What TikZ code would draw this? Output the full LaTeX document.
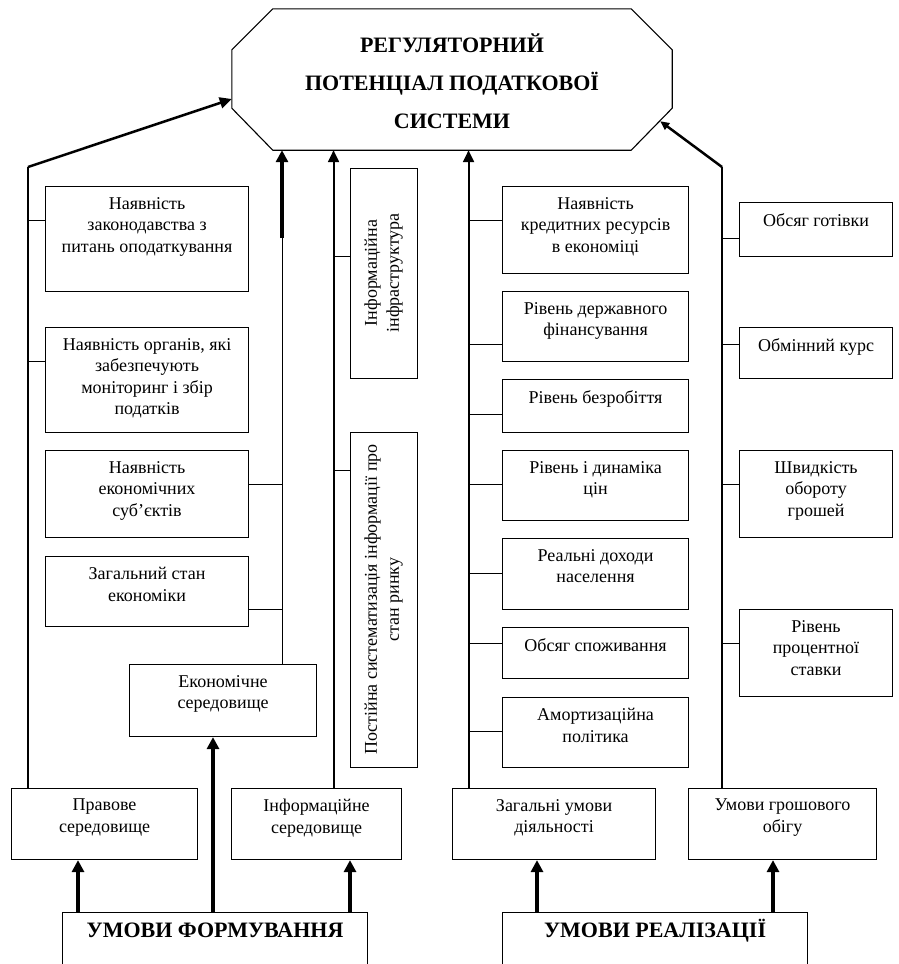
\documentclass[tikz,border=0pt]{standalone}
\usepackage{fontspec}
\setmainfont{Liberation Serif}
\usetikzlibrary{arrows.meta}

\tikzset{
  box/.style={draw, line width=1.1pt, anchor=north west, inner sep=0pt},
  txt/.style={anchor=north, align=center, inner ysep=11pt, font=\fontsize{18}{21.5}\selectfont},
  head/.style={anchor=north, align=center, inner ysep=9pt, text height=16pt, font=\fontsize{22}{26}\selectfont\bfseries},
  side/.style={draw, line width=1pt, rotate=90, align=center, inner sep=0pt, minimum height=67, font=\fontsize{18}{22}\selectfont},
  link/.style={line width=1pt},
  trunk/.style={line width=1.5pt},
  bigarrow/.style={line width=3.5pt, -{Triangle[length=12pt,width=12pt]}},
  midarrow/.style={line width=2pt, -{Triangle[length=12pt,width=11pt]}},
  smallarrow/.style={line width=2.5pt, -{Triangle[length=9pt,width=8pt]}},
}

\begin{document}
\begin{tikzpicture}[x=1pt,y=-1pt]
\useasboundingbox (0,0) rectangle (898,964);

% top block
\node[minimum width=440, minimum height=141, inner sep=0pt, align=center, font=\fontsize{22}{38}\selectfont\bfseries] (reg) at (452,81.5) {РЕГУЛЯТОРНИЙ\\ПОТЕНЦІАЛ ПОДАТКОВОЇ\\СИСТЕМИ};
\draw[line width=1.1pt] ([xshift=41pt,yshift=2pt]reg.north west) -- ([xshift=-41pt,yshift=2pt]reg.north east) -- ([yshift=-39pt]reg.north east) -- ([yshift=44pt]reg.south east) -- ([xshift=-41pt,yshift=2pt]reg.south east) -- ([xshift=41pt,yshift=2pt]reg.south west) -- ([yshift=44pt]reg.south west) -- ([yshift=-39pt]reg.north west) -- cycle;
\coordinate (regb) at ([yshift=2pt]reg.south);

% left column
\node[box, minimum width=203, minimum height=105, label={[txt]north:{Наявність\\законодавства з\\питань оподаткування}}] (l1) at (45,186) {};
\node[box, minimum width=203, minimum height=105, label={[txt]north:{Наявність органів, які\\забезпечують\\моніторинг і збір\\податків}}] (l2) at (45,327) {};
\node[box, minimum width=203, minimum height=87, label={[txt]north:{Наявність\\економічних\\суб’єктів}}] (l3) at (45,450) {};
\node[box, minimum width=203, minimum height=70, label={[txt]north:{Загальний стан\\економіки}}] (l4) at (45,556) {};
\node[box, minimum width=187, minimum height=72, label={[txt]north:{Економічне\\середовище}}] (econ) at (129,664) {};
\node[box, minimum width=186, minimum height=71, label={[txt]north:{Правове\\середовище}}] (prav) at (11,788) {};
\node[box, minimum width=170, minimum height=71, label={[txt]north:{Інформаційне\\середовище}}] (info) at (231,788) {};

% information boxes
\node[side, minimum width=210] (infr) at (383.5,273) {Інформаційна\\інфраструктура};
\node[side, minimum width=335] (post) at (383.5,599.5) {Постійна систематизація інформації про\\стан ринку};

% middle right column
\node[box, minimum width=186, minimum height=87, label={[txt]north:{Наявність\\кредитних ресурсів\\в економіці}}] (r1) at (502,186) {};
\node[box, minimum width=186, minimum height=70, label={[txt]north:{Рівень державного\\фінансування}}] (r2) at (502,291) {};
\node[box, minimum width=186, minimum height=53, label={[txt]north:{Рівень безробіття}}] (r3) at (502,379) {};
\node[box, minimum width=186, minimum height=70, label={[txt]north:{Рівень і динаміка\\цін}}] (r4) at (502,450) {};
\node[box, minimum width=186, minimum height=71, label={[txt]north:{Реальні доходи\\населення}}] (r5) at (502,538) {};
\node[box, minimum width=186, minimum height=51, label={[txt]north:{Обсяг споживання}}] (r6) at (502,627) {};
\node[box, minimum width=186, minimum height=70, label={[txt]north:{Амортизаційна\\політика}}] (r7) at (502,697) {};
\node[box, minimum width=203, minimum height=71, label={[txt]north:{Загальні умови\\діяльності}}] (zag) at (452,788) {};

% far right column
\node[box, minimum width=153, minimum height=54, label={[txt]north:{Обсяг готівки}}] (f1) at (739,202) {};
\node[box, minimum width=153, minimum height=51, label={[txt]north:{Обмінний курс}}] (f2) at (739,327) {};
\node[box, minimum width=153, minimum height=87, label={[txt]north:{Швидкість\\обороту\\грошей}}] (f3) at (739,450) {};
\node[box, minimum width=153, minimum height=87, label={[txt]north:{Рівень\\процентної\\ставки}}] (f4) at (739,609) {};
\node[box, minimum width=188, minimum height=71, label={[txt]north:{Умови грошового\\обігу}}] (grosh) at (688,788) {};

% bottom
\node[box, minimum width=305, minimum height=52, label={[head]north:{УМОВИ ФОРМУВАННЯ}}] (uf) at (62,912) {};
\node[box, minimum width=305, minimum height=52, label={[head]north:{УМОВИ РЕАЛІЗАЦІЇ}}] (ur) at (502,912) {};

% trunks
\coordinate (lt) at (28,167);
\coordinate (et) at (282,238);
\coordinate (gt) at (722,167);
\coordinate (ib) at ([xshift=17pt]info.north);
\coordinate (zb) at ([xshift=-85.5pt]zag.north);
\draw[trunk] (lt |- prav.north) -- (lt);
\draw[smallarrow, -{Triangle[length=12pt,width=11pt]}] (lt) -- ([yshift=-17.5pt]reg.west);
\draw[link] (et |- econ.north) -- (et);
\draw[bigarrow, line width=4pt] (et) -- (et |- regb);
\draw[midarrow] (ib) -- (ib |- regb);
\draw[midarrow] (zb) -- (zb |- regb);
\draw[trunk] (gt |- grosh.north) -- (gt);
\draw[smallarrow] (gt) -- ([xshift=-12pt,yshift=31pt]reg.south east);

% links
\foreach \b/\d in {l1/34, l2/34}
  \draw[link] ([yshift=-\d pt]\b.north west) -| (lt);
\foreach \b/\d in {l3/34, l4/53}
  \draw[link] ([yshift=-\d pt]\b.north east) -| (et);
\draw[link] ([yshift=17pt]infr.north) -| (ib);
\draw[link] ([yshift=129.5pt]post.north) -| (ib);
\foreach \b/\d in {r1/34, r2/53, r3/35, r4/34, r5/35, r6/16, r7/34}
  \draw[link] ([yshift=-\d pt]\b.north west) -| (zb);
\foreach \b/\d in {f1/36, f2/17, f3/34, f4/34}
  \draw[link] ([yshift=-\d pt]\b.north west) -| (gt);

% conditions
\foreach \x/\b in {78/prav, 213/econ, 350/info}
  \draw[bigarrow] (\x,0 |- uf.north) -- (\x,0 |- \b.south);
\foreach \x/\b in {537/zag, 773/grosh}
  \draw[bigarrow] (\x,0 |- ur.north) -- (\x,0 |- \b.south);
\end{tikzpicture}
\end{document}
